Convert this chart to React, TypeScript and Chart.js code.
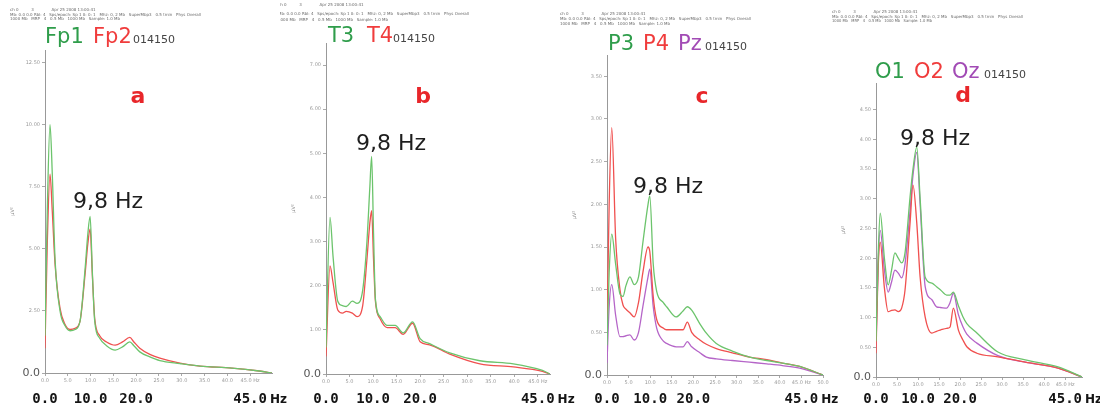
import React, { useEffect, useRef } from "react";
import { Chart, registerables } from "chart.js";

Chart.register(...registerables);

// ---------------- DATA ----------------
// Panel a (Fp1 / Fp2)
const freqA = [0, 0.5, 1.1, 1.6, 2.2, 3.3, 4.4, 5.5, 6.6, 7.7, 8.8, 9.4, 9.9, 10.4, 10.9, 12, 13.5, 15.4, 17, 18.6, 19.5, 20.8, 23, 25.2, 29.6, 34, 41, 47, 49.8];
const fp1 = [1.5, 6.5, 10.0, 8.0, 4.6, 2.5, 1.9, 1.7, 1.75, 2.1, 4.2, 5.6, 6.3, 4.0, 2.1, 1.4, 1.1, 0.92, 1.05, 1.25, 1.1, 0.85, 0.65, 0.5, 0.38, 0.28, 0.2, 0.08, 0.0];
const fp2 = [1.0, 5.2, 8.0, 6.5, 4.4, 2.6, 1.95, 1.75, 1.8, 2.1, 4.0, 5.2, 5.8, 3.9, 2.2, 1.5, 1.25, 1.12, 1.25, 1.43, 1.25, 1.0, 0.75, 0.6, 0.4, 0.28, 0.2, 0.08, 0.0];

// Panel b (T3 / T4)
const freqB = [0, 0.85, 1.5, 2.5, 3.5, 4.3, 5.6, 6.6, 7.8, 8.7, 9.3, 9.7, 10.1, 10.5, 11.5, 13, 14.7, 16.4, 18.4, 20, 22, 26.3, 32.7, 39.8, 46, 47.6];
const t3 = [0.6, 3.55, 2.66, 1.65, 1.55, 1.53, 1.65, 1.6, 1.9, 3.0, 4.2, 4.93, 3.2, 1.7, 1.3, 1.1, 1.1, 0.93, 1.18, 0.8, 0.69, 0.48, 0.3, 0.23, 0.08, 0];
const t4 = [0.4, 2.45, 2.07, 1.45, 1.38, 1.42, 1.38, 1.3, 1.55, 2.6, 3.4, 3.7, 2.6, 1.65, 1.25, 1.05, 1.05, 0.9, 1.15, 0.73, 0.66, 0.45, 0.23, 0.16, 0.06, 0];

// Panel c (P3 / P4 / Pz)
const freqC = [0, 0.5, 1.1, 2, 3, 3.7, 4.4, 5.3, 6.3, 7.3, 8.3, 9.5, 9.9, 10.7, 11.5, 13, 13.8, 16, 17.6, 18.6, 19.6, 21.5, 23, 25.3, 29, 33, 37, 40.6, 44.6, 50];
const p3 = [0.35, 1.2, 1.65, 1.3, 0.95, 0.92, 1.05, 1.15, 1.06, 1.15, 1.55, 2.0, 2.1, 1.3, 0.98, 0.85, 0.8, 0.68, 0.75, 0.8, 0.76, 0.6, 0.49, 0.37, 0.28, 0.21, 0.17, 0.14, 0.1, 0];
const p4 = [0.5, 2.0, 2.9, 1.6, 1.0, 0.82, 0.77, 0.73, 0.68, 0.85, 1.2, 1.5, 1.45, 0.92, 0.65, 0.55, 0.53, 0.53, 0.53, 0.62, 0.5, 0.41, 0.36, 0.31, 0.26, 0.21, 0.18, 0.14, 0.1, 0];
const pz = [0.14, 0.8, 1.06, 0.7, 0.45, 0.45, 0.46, 0.47, 0.41, 0.5, 0.8, 1.15, 1.24, 0.8, 0.55, 0.4, 0.37, 0.33, 0.33, 0.39, 0.33, 0.26, 0.21, 0.19, 0.17, 0.15, 0.13, 0.11, 0.08, 0];

// Panel d (O1 / O2 / Oz)
const freqD = [0, 0.5, 1, 2, 2.9, 3.7, 4.5, 5.3, 6.1, 6.9, 8.1, 8.8, 9.7, 10.5, 11.7, 13.3, 14.4, 15.3, 16.8, 17.6, 18.4, 19.6, 20.7, 21.6, 24, 29, 35.5, 43.3, 49];
const o1 = [0.6, 2.0, 2.76, 2.0, 1.55, 1.8, 2.09, 2.0, 1.92, 2.09, 3.03, 3.5, 3.87, 3.0, 1.68, 1.58, 1.52, 1.47, 1.38, 1.38, 1.43, 1.2, 1.01, 0.9, 0.74, 0.42, 0.29, 0.17, 0];
const o2 = [0.4, 1.8, 2.27, 1.5, 1.1, 1.12, 1.13, 1.1, 1.16, 1.46, 2.59, 3.23, 2.59, 1.68, 1.01, 0.74, 0.77, 0.79, 0.82, 0.84, 1.16, 0.79, 0.62, 0.51, 0.4, 0.34, 0.25, 0.15, 0];
const oz = [0.5, 1.9, 2.47, 1.8, 1.43, 1.6, 1.8, 1.75, 1.67, 1.9, 2.8, 3.4, 3.78, 2.9, 1.52, 1.3, 1.18, 1.17, 1.16, 1.25, 1.41, 1.05, 0.84, 0.72, 0.57, 0.36, 0.25, 0.15, 0];

// Labels
const channelsA = ["Fp1", "Fp2"];
const channelsB = ["T3", "T4"];
const channelsC = ["P3", "P4", "Pz"];
const channelsD = ["O1", "O2", "Oz"];
const recordId = "014150";
const panelLetters = ["a", "b", "c", "d"];
const peakLabel = "9,8 Hz";
const yAxisTitle = "µV²";
const bigTicks = [0, 10, 20, 45];
const bigTickLabels = ["0.0", "10.0", "20.0", "45.0"];
const bigUnit = "Hz";
const headerLines = [
  "ch 0          3              Apr 25 2008 13:00:41",
  "Mb: 0.0 0.0 Rbl: 4   Sps/epoch: Sp 1 0: 0: 1   Mhz: 0, 2 Mb   SuperMbp3   0.5 tmin   Phys Overall",
  "1000 Mb   MRP   4   0.5 Mb   1000 Mb   Sample: 1.0 Mb",
];

// ---------------- STYLE ----------------
const GREEN_TXT = "#2f9d4b";
const RED_TXT = "#f03c3c";
const PURPLE_TXT = "#a24bb5";
const GREEN = "#6cc46c";
const RED = "#f0504f";
const PURPLE = "#b565c8";
const FONT = '"DejaVu Sans"';

const txtColors = [GREEN_TXT, RED_TXT, PURPLE_TXT];
const lineColors = [GREEN, RED, PURPLE];

const panels = [
  {
    left: 0, width: 295, axisX: 45, top: 50, zero: 373, xRight: 272, xMax: 49.8, yMax: 13, yStep: 2.5,
    freqs: freqA, series: [fp1, fp2], channels: channelsA,
    titleY: 43, segX: [45, 93, 133], letter: panelLetters[0], letterX: 138, letterY: 103,
    peakX: 108, peakY: 208, header: { x: 10, ys: [11, 16, 20], ws: [120, 208, 110] },
  },
  {
    left: 280, width: 300, axisX: 326, top: 43, zero: 374, xRight: 550, xMax: 47.6, yMax: 7.5, yStep: 1,
    freqs: freqB, series: [t3, t4], channels: channelsB,
    titleY: 42, segX: [328, 367, 393], letter: panelLetters[1], letterX: 423, letterY: 103,
    peakX: 391, peakY: 150, header: { x: 278, ys: [6, 15, 21], ws: [120, 222, 110] },
  },
  {
    left: 555, width: 295, axisX: 607, top: 55, zero: 375, xRight: 823, xMax: 50, yMax: 3.75, yStep: 0.5,
    freqs: freqC, series: [p3, p4, pz], channels: channelsC,
    titleY: 50, segX: [608, 643, 678, 705], letter: panelLetters[2], letterX: 702, letterY: 103,
    peakX: 668, peakY: 193, header: { x: 560, ys: [15, 20, 25], ws: [110, 215, 110] },
  },
  {
    left: 830, width: 270, axisX: 876, top: 83, zero: 377, xRight: 1082, xMax: 49, yMax: 4.95, yStep: 0.5,
    freqs: freqD, series: [o1, o2, oz], channels: channelsD,
    titleY: 78, segX: [875, 914, 952, 984], letter: panelLetters[3], letterX: 963, letterY: 102,
    peakX: 935, peakY: 145, header: { x: 832, ys: [13, 18, 22], ws: [100, 203, 100] },
  },
];

function makeTextPlugin(p: any, idx: number) {
  return {
    id: "panelText" + idx,
    afterDraw(chart: any) {
      const ctx = chart.ctx as CanvasRenderingContext2D;
      const ox = p.left;
      ctx.save();
      ctx.textBaseline = "alphabetic";
      // header lines
      ctx.textAlign = "left";
      ctx.fillStyle = "#6a6a6a";
      ctx.font = `4px ${FONT}`;
      headerLines.forEach((line, i) => ctx.fillText(line, p.header.x - ox, p.header.ys[i], p.header.ws[i]));
      // title
      p.channels.forEach((ch: string, i: number) => {
        ctx.font = `21px ${FONT}`;
        ctx.fillStyle = txtColors[i];
        ctx.fillText(ch, p.segX[i] - ox, p.titleY);
      });
      ctx.font = `11px ${FONT}`;
      ctx.fillStyle = "#444";
      ctx.fillText(recordId, p.segX[p.channels.length] - ox, p.titleY);
      // letter
      ctx.textAlign = "center";
      ctx.font = `bold 22px ${FONT}`;
      ctx.fillStyle = "#e8262a";
      ctx.fillText(p.letter, p.letterX - ox, p.letterY);
      // peak label
      ctx.font = `22px ${FONT}`;
      ctx.fillStyle = "#1e1e1e";
      ctx.fillText(peakLabel, p.peakX - ox, p.peakY);
      // big x labels
      const xs = chart.scales.x;
      ctx.textAlign = "left";
      ctx.fillStyle = "#151515";
      bigTicks.forEach((v, i) => {
        const px = xs.getPixelForValue(v);
        ctx.font = `bold 14px "DejaVu Sans Mono"`;
        const w = ctx.measureText(bigTickLabels[i]).width;
        ctx.fillText(bigTickLabels[i], px - w / 2, 403);
        if (i === bigTicks.length - 1) {
          ctx.font = `bold 12px ${FONT}`;
          ctx.fillText(bigUnit, px + w / 2 + 3, 403);
        }
      });
      ctx.restore();
    },
  };
}

function Panel({ p, idx }: { p: any; idx: number }) {
  const ref = useRef<HTMLCanvasElement>(null);
  useEffect(() => {
    const canvas = ref.current!;
    const chart = new Chart(canvas, {
      type: "line",
      data: {
        datasets: p.series.map((vals: number[], i: number) => ({
          label: p.channels[i],
          data: p.freqs.map((f: number, k: number) => ({ x: f, y: vals[k] })),
          borderColor: lineColors[i],
          borderWidth: 1.3,
          pointRadius: 0,
          fill: false,
          cubicInterpolationMode: "monotone",
        })),
      },
      options: {
        responsive: false,
        animation: false,
        devicePixelRatio: 1,
        layout: {
          padding: { top: p.top, left: p.axisX - 35 - p.left, right: p.left + p.width - p.xRight, bottom: 0 },
        },
        scales: {
          x: {
            type: "linear",
            min: 0,
            max: p.xMax,
            afterFit: (s: any) => { s.height = 407 - p.zero; },
            ticks: {
              stepSize: 5,
              includeBounds: false,
              autoSkip: false,
              maxRotation: 0,
              padding: 2,
              color: "#999",
              font: { size: 5, family: FONT },
              callback: (v: any) => (Number(v).toFixed(1) + (Number(v) === 45 ? " Hz" : "")),
            },
            grid: { drawOnChartArea: false, tickLength: 3, color: "#aaa" },
            border: { color: "#999", width: 1 },
          },
          y: {
            type: "linear",
            min: 0,
            max: p.yMax,
            afterFit: (s: any) => { s.width = 35; },
            ticks: {
              stepSize: p.yStep,
              includeBounds: false,
              autoSkip: false,
              padding: 2,
              color: (c: any) => (c.tick && c.tick.value === 0 ? "#555" : "#999"),
              font: (c: any) => (c.tick && c.tick.value === 0 ? { size: 11, family: FONT } : { size: 5, family: FONT }),
              callback: (v: any) => (Number(v) === 0 ? "0.0" : Number(v).toFixed(2)),
            },
            grid: { drawOnChartArea: false, tickLength: 3, color: "#aaa" },
            border: { color: "#999", width: 1 },
            title: { display: true, text: yAxisTitle, color: "#888", font: { size: 5, family: FONT }, padding: 0 },
          },
        },
        plugins: { legend: { display: false }, tooltip: { enabled: false } },
      } as any,
      plugins: [makeTextPlugin(p, idx)],
    });
    return () => chart.destroy();
  }, []);
  return (
    <canvas
      ref={ref}
      width={p.width}
      height={407}
      style={{ position: "absolute", left: p.left, top: 0, width: p.width, height: 407 }}
    />
  );
}

export default function App() {
  return (
    <div style={{ position: "absolute", left: 0, top: 0, width: 1100, height: 407, background: "#fff", overflow: "hidden" }}>
      {panels.map((p, i) => (
        <Panel key={i} p={p} idx={i} />
      ))}
    </div>
  );
}
